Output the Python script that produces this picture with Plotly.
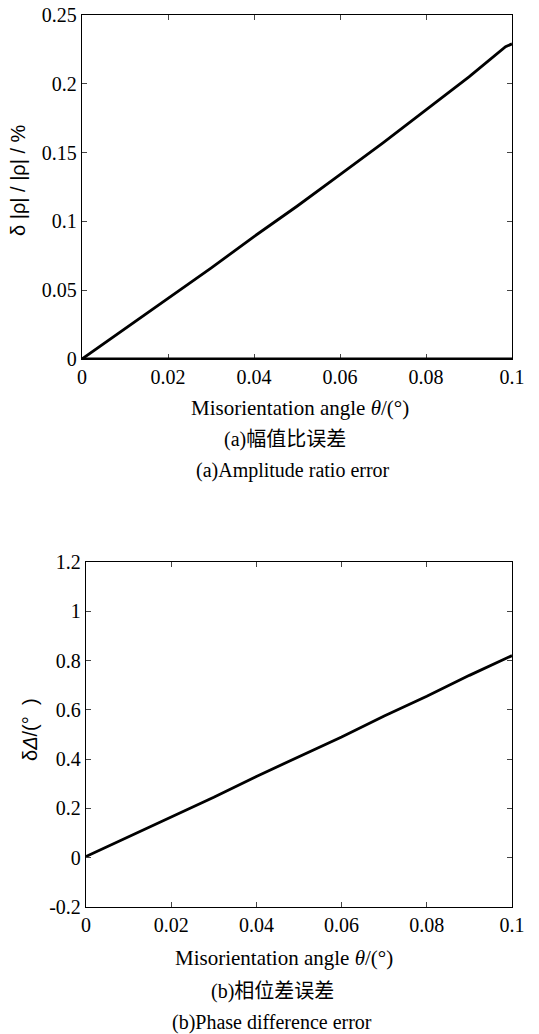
import plotly.graph_objects as go

# Data
theta = [0.0, 0.01, 0.02, 0.03, 0.04, 0.05, 0.06, 0.07, 0.08, 0.09, 0.0985, 0.1]
amp_err = [0.0, 0.022, 0.044, 0.066, 0.089, 0.111, 0.134, 0.157, 0.181, 0.205, 0.227, 0.229]
phase_err = [0.005, 0.085, 0.165, 0.245, 0.33, 0.41, 0.49, 0.575, 0.655, 0.74, 0.81, 0.82]

x_ticks = [0, 0.02, 0.04, 0.06, 0.08, 0.1]
x_ticklabels = ["0", "0.02", "0.04", "0.06", "0.08", "0.1"]
y1_ticks = [0, 0.05, 0.1, 0.15, 0.2, 0.25]
y1_ticklabels = ["0", "0.05", "0.1", "0.15", "0.2", "0.25"]
y2_ticks = [-0.2, 0, 0.2, 0.4, 0.6, 0.8, 1.0, 1.2]
y2_ticklabels = ["-0.2", "0", "0.2", "0.4", "0.6", "0.8", "1", "1.2"]

W, H = 539, 1034
serif = "Liberation Serif, Times New Roman, serif"
sans = "Liberation Sans, Arial, sans-serif"
cjk = "Liberation Serif, Noto Sans CJK SC, serif"

fig = go.Figure()
fig.add_trace(go.Scatter(x=theta, y=amp_err, mode="lines",
                         line=dict(color="black", width=2.8),
                         xaxis="x", yaxis="y", showlegend=False))
fig.add_trace(go.Scatter(x=theta, y=phase_err, mode="lines",
                         line=dict(color="black", width=2.8),
                         xaxis="x2", yaxis="y2", showlegend=False))

common = dict(showgrid=False, zeroline=False, showline=True, linecolor="black",
              linewidth=1.3, mirror="ticks", ticks="inside", ticklen=5,
              automargin=False, ticklabeloverflow="allow",
              tickcolor="#444", tickfont=dict(family=serif, size=20, color="black"))

def px_x(p):
    return p / W

def px_y(p):
    return 1 - p / H

fig.update_layout(
    width=W, height=H,
    margin=dict(l=0, r=0, t=0, b=0, autoexpand=False),
    paper_bgcolor="white", plot_bgcolor="white",
    xaxis=dict(domain=[px_x(82), px_x(512)], range=[0, 0.1], anchor="y",
               tickvals=x_ticks, ticktext=x_ticklabels, **common),
    yaxis=dict(domain=[px_y(359), px_y(15)], range=[0, 0.25], anchor="x",
               tickvals=y1_ticks, ticktext=y1_ticklabels, **common),
    xaxis2=dict(domain=[px_x(86), px_x(512)], range=[0, 0.1], anchor="y2",
                tickvals=x_ticks, ticktext=x_ticklabels, **common),
    yaxis2=dict(domain=[px_y(907), px_y(562)], range=[-0.2, 1.2], anchor="x2",
                tickvals=y2_ticks, ticktext=y2_ticklabels, **common),
)

# thicker bottom edge in top panel
fig.add_shape(type="line", xref="x", yref="y", x0=0, x1=0.1, y0=0, y1=0,
              line=dict(color="black", width=2.8))

def ann(text, x, y, size, family=serif, angle=0):
    fig.add_annotation(text=text, x=px_x(x), y=px_y(y), xref="paper", yref="paper",
                       showarrow=False, textangle=angle,
                       font=dict(family=family, size=size, color="black"),
                       xanchor="center", yanchor="middle")

ann("Misorientation angle <i>θ</i>/(°)", 300, 408, 21)
ann("(a)幅值比误差", 285, 440, 20, cjk)
ann("(a)Amplitude ratio error", 293, 470, 20)
ann("δ |ρ|\u00a0/\u00a0|ρ|\u00a0/\u00a0%", 18, 180, 20, sans, -90)

ann("Misorientation angle <i>θ</i>/(°)", 284, 958, 21)
ann("(b)相位差误差", 272, 991, 20, cjk)
ann("(b)Phase difference error", 272, 1022, 20)
ann("δ<i>Δ</i>/(°\u00a0\u00a0)", 30, 730, 20, sans, -90)

fig.write_html("out.html",
               config={"displayModeBar": False},
               post_script="document.body.style.margin='0';document.body.style.overflow='hidden';")
